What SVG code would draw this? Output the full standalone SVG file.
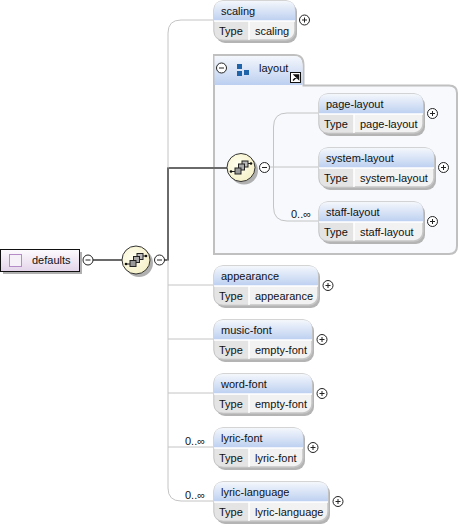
<svg xmlns="http://www.w3.org/2000/svg" width="459" height="527" viewBox="0 0 459 527">
<style>
text{font-family:"Liberation Sans",Arial,sans-serif;font-size:11px;fill:#111}
.wire{fill:none;stroke:#c4c4c4;stroke-width:1}
.bold{fill:none;stroke:#6a6a6a;stroke-width:2}
.shadow{fill:#b4b4b4}
.frame{fill:#f2f2f2;stroke:#c6c6c6;stroke-width:1.5}
.head{fill:url(#hg)}
.typebg{fill:#e4e4e4}
.sep{stroke:#fff;stroke-width:1.5}
.btn{fill:#fff;stroke:#222;stroke-width:1}
.sign{stroke:#222;stroke-width:1;fill:none}
</style>
<defs>
<linearGradient id="hg" x1="0" y1="0" x2="0" y2="1"><stop offset="0" stop-color="#f4f7fc"/><stop offset="1" stop-color="#bccff0"/></linearGradient>
<linearGradient id="pg" x1="0" y1="0" x2="0" y2="1"><stop offset="0" stop-color="#fdfbfe"/><stop offset="1" stop-color="#e4d4ea"/></linearGradient>
<radialGradient id="yg" cx="0.4" cy="0.4" r="0.7"><stop offset="0" stop-color="#fffff0"/><stop offset="1" stop-color="#f4efc4"/></radialGradient>
<g id="plus"><circle r="5" class="btn"/><path d="M-2.500 0H2.500M0-2.500V2.500" class="sign"/></g>
<g id="minus"><circle r="5" class="btn"/><path d="M-2.500 0H2.500" class="sign"/></g>
<g id="seq">
<circle cx="3" cy="3" r="14" fill="#b0b0b0"/>
<circle r="14" fill="url(#yg)" stroke="#333" stroke-width="1"/>
<path d="M-10 4H-6M6-4H10" stroke="#222" stroke-width="1"/>
<circle cx="-10" cy="4" r="1.300" fill="#111"/><circle cx="10" cy="-4" r="1.300" fill="#111"/>
<rect x="1" y="-6.500" width="6" height="6" fill="#bbb" stroke="#222"/>
<rect x="-2.500" y="-3.500" width="6" height="6" fill="#aaa" stroke="#222"/>
<rect x="-6" y="0.500" width="6" height="6" fill="#999" stroke="#222"/>
</g>
</defs>
<g id="layout">
<path d="M214 55H294Q303.500 55 303.500 65V85.500H449Q457 85.500 457 93V246Q457 254 449 254H214Z" fill="#f7f9fd" stroke="#c0c0c0" stroke-width="2"/>
<path d="M214.500 56H294Q302.500 56 302.500 65V85H214.500Z" fill="url(#hg)"/>
<use href="#minus" x="221.500" y="68"/>
<path d="M237 64h5v5h-5zM237 71h5v5h-5zM244 70h5v5h-5z" fill="#1f63a8"/>
<text x="259" y="72">layout</text>
<rect x="290.500" y="72.500" width="10" height="10" fill="#fff" stroke="#111"/>
<path d="M293 80.500L298 75.500M294.500 75H298.500V79Z" stroke="#111" stroke-width="1.500" fill="#111"/>
</g>
<g id="connectors">
<path class="bold" d="M93 260H122"/>
<path class="bold" d="M164 260H168V168H227"/>
<path class="wire" d="M213 20H181Q168 20 168 33V168"/>
<path class="wire" d="M168 260V488Q168 501 181 501H213"/>
<path class="wire" d="M168 285H213M168 339H213M168 393H213M168 447H213"/>
<path class="wire" d="M318 113H287Q273.500 113 273.500 127V207Q273.500 221 287 221H318"/>
<path class="wire" d="M269 167H318"/>
</g>
<g id="defaults">
<rect x="3" y="252" width="79" height="22" fill="#b0b0b0"/>
<rect x="0.500" y="249.500" width="79" height="22" fill="url(#pg)" stroke="#111"/>
<rect x="9.500" y="254.500" width="12" height="12" fill="#f6f0f8" stroke="#b68cc8"/>
<text x="32" y="264">defaults</text>
<use href="#minus" x="88" y="260"/>
</g>
<g id="sequence-main"><use href="#seq" x="136" y="260"/><use href="#minus" x="159.500" y="260"/></g>
<g id="scaling">
<rect x="216" y="3" width="81" height="40" rx="9" class="shadow"/>
<rect x="214" y="1" width="81" height="39" rx="9" class="frame"/>
<path class="head" d="M214 21V10Q214 1 223 1H286Q295 1 295 10V21Z"/>
<path class="typebg" d="M214.500 21.500H249V39.500H223Q214.500 39.500 214.500 31Z"/>
<path class="sep" d="M214 21H295M249 21V40"/>
<text x="221" y="15">scaling</text><text x="219" y="35">Type</text><text x="255" y="35">scaling</text>
<use href="#plus" x="304.500" y="20"/>
</g>
<g id="sequence-layout"><use href="#seq" x="241" y="167.500"/><use href="#minus" x="264.500" y="167.500"/></g>
<g id="page-layout">
<rect x="321" y="96" width="104" height="40" rx="9" class="shadow"/>
<rect x="319" y="94" width="104" height="39" rx="9" class="frame"/>
<path class="head" d="M319 114V103Q319 94 328 94H414Q423 94 423 103V114Z"/>
<path class="typebg" d="M319.500 114.500H354V132.500H328Q319.500 132.500 319.500 124Z"/>
<path class="sep" d="M319 114H423M354 114V133"/>
<text x="326" y="108">page-layout</text><text x="324" y="128">Type</text><text x="360" y="128">page-layout</text>
<use href="#plus" x="432.500" y="113.500"/>
</g>
<g id="system-layout">
<rect x="321" y="150" width="115" height="40" rx="9" class="shadow"/>
<rect x="319" y="148" width="115" height="39" rx="9" class="frame"/>
<path class="head" d="M319 168V157Q319 148 328 148H425Q434 148 434 157V168Z"/>
<path class="typebg" d="M319.500 168.500H354V186.500H328Q319.500 186.500 319.500 178Z"/>
<path class="sep" d="M319 168H434M354 168V187"/>
<text x="326" y="162">system-layout</text><text x="324" y="182">Type</text><text x="360" y="182">system-layout</text>
<use href="#plus" x="443.500" y="167.500"/>
</g>
<g id="staff-layout">
<rect x="321" y="204" width="104" height="40" rx="9" class="shadow"/>
<rect x="319" y="202" width="104" height="39" rx="9" class="frame"/>
<path class="head" d="M319 222V211Q319 202 328 202H414Q423 202 423 211V222Z"/>
<path class="typebg" d="M319.500 222.500H354V240.500H328Q319.500 240.500 319.500 232Z"/>
<path class="sep" d="M319 222H423M354 222V241"/>
<text x="291" y="218">0..∞</text>
<text x="326" y="216">staff-layout</text><text x="324" y="236">Type</text><text x="360" y="236">staff-layout</text>
<use href="#plus" x="432.500" y="221.500"/>
</g>
<g id="appearance">
<rect x="216" y="268" width="104" height="40" rx="9" class="shadow"/>
<rect x="214" y="266" width="104" height="39" rx="9" class="frame"/>
<path class="head" d="M214 286V275Q214 266 223 266H309Q318 266 318 275V286Z"/>
<path class="typebg" d="M214.500 286.500H249V304.500H223Q214.500 304.500 214.500 296Z"/>
<path class="sep" d="M214 286H318M249 286V305"/>
<text x="221" y="280">appearance</text><text x="219" y="300">Type</text><text x="255" y="300">appearance</text>
<use href="#plus" x="328" y="285.500"/>
</g>
<g id="music-font">
<rect x="216" y="322" width="98" height="40" rx="9" class="shadow"/>
<rect x="214" y="320" width="98" height="39" rx="9" class="frame"/>
<path class="head" d="M214 340V329Q214 320 223 320H303Q312 320 312 329V340Z"/>
<path class="typebg" d="M214.500 340.500H249V358.500H223Q214.500 358.500 214.500 350Z"/>
<path class="sep" d="M214 340H312M249 340V359"/>
<text x="221" y="334">music-font</text><text x="219" y="354">Type</text><text x="255" y="354">empty-font</text>
<use href="#plus" x="322" y="339.500"/>
</g>
<g id="word-font">
<rect x="216" y="376" width="98" height="40" rx="9" class="shadow"/>
<rect x="214" y="374" width="98" height="39" rx="9" class="frame"/>
<path class="head" d="M214 394V383Q214 374 223 374H303Q312 374 312 383V394Z"/>
<path class="typebg" d="M214.500 394.500H249V412.500H223Q214.500 412.500 214.500 404Z"/>
<path class="sep" d="M214 394H312M249 394V413"/>
<text x="221" y="388">word-font</text><text x="219" y="408">Type</text><text x="255" y="408">empty-font</text>
<use href="#plus" x="322" y="393.500"/>
</g>
<g id="lyric-font">
<rect x="216" y="430" width="89" height="40" rx="9" class="shadow"/>
<rect x="214" y="428" width="89" height="39" rx="9" class="frame"/>
<path class="head" d="M214 448V437Q214 428 223 428H294Q303 428 303 437V448Z"/>
<path class="typebg" d="M214.500 448.500H249V466.500H223Q214.500 466.500 214.500 458Z"/>
<path class="sep" d="M214 448H303M249 448V467"/>
<text x="185" y="445">0..∞</text>
<text x="221" y="442">lyric-font</text><text x="219" y="462">Type</text><text x="255" y="462">lyric-font</text>
<use href="#plus" x="313" y="447.500"/>
</g>
<g id="lyric-language">
<rect x="216" y="484" width="114" height="40" rx="9" class="shadow"/>
<rect x="214" y="482" width="114" height="39" rx="9" class="frame"/>
<path class="head" d="M214 502V491Q214 482 223 482H319Q328 482 328 491V502Z"/>
<path class="typebg" d="M214.500 502.500H249V520.500H223Q214.500 520.500 214.500 512Z"/>
<path class="sep" d="M214 502H328M249 502V521"/>
<text x="185" y="499">0..∞</text>
<text x="221" y="496">lyric-language</text><text x="219" y="516">Type</text><text x="255" y="516">lyric-language</text>
<use href="#plus" x="338" y="501.500"/>
</g>
</svg>
